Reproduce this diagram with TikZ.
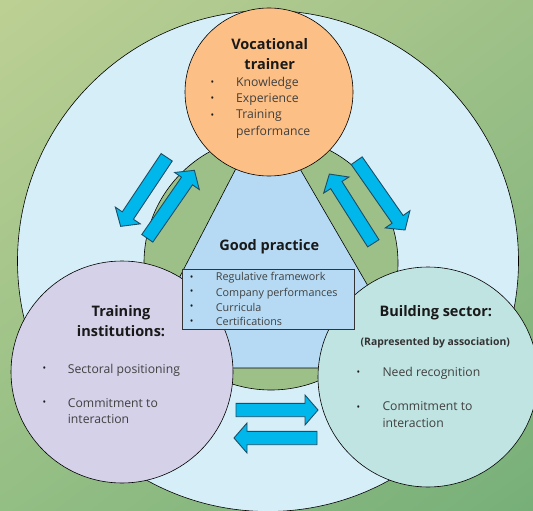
\documentclass[tikz,border=0pt]{standalone}
\usepackage{fontspec}
\usetikzlibrary{shadings}
\setmainfont{Open Sans}
\definecolor{bgA}{HTML}{BDD094}
\definecolor{bgB}{HTML}{9EC188}
\definecolor{bgC}{HTML}{93BE84}
\definecolor{bgD}{HTML}{77AF79}
\definecolor{bigc}{HTML}{D6EEF8}
\definecolor{ringc}{HTML}{9CC087}
\definecolor{goodc}{HTML}{B6DAF3}
\definecolor{trainc}{HTML}{FCBF86}
\definecolor{instc}{HTML}{D4D1E9}
\definecolor{buildc}{HTML}{C0E4E2}
\definecolor{arrc}{HTML}{00B7EB}
\definecolor{arrd}{HTML}{1D4E66}
\definecolor{itemc}{HTML}{404040}
\tikzset{
 disc/.style={circle, draw=black, line width=0.6pt, inner sep=0pt},
 barrow/.style={fill=arrc, draw=arrd, line width=0.9pt, line join=miter},
 titletext/.style={font=\fontsize{14.5}{17}\selectfont\bfseries, text=black!90, inner sep=0pt, anchor=base},
 subtext/.style={font=\fontsize{10.4}{12}\selectfont\bfseries, text=black!80, inner sep=0pt, anchor=base},
 itemtext/.style={font=\fontsize{12.2}{15}\selectfont, text=itemc, inner sep=0pt, anchor=base west},
 boxitem/.style={font=\fontsize{10.8}{13}\selectfont, text=itemc, inner sep=0pt, anchor=base west},
 bul/.style={font=\fontsize{9.5}{10}\selectfont, text=black!90, inner sep=0pt},
}
\newcommand\blockarrow[3]{%
 \begin{scope}[shift={(#1)}, rotate=#2]
 \draw[barrow] (0,-6.7) -- ({#3-13},-6.7) -- ({#3-13},-15) -- (#3,0) -- ({#3-13},15) -- ({#3-13},6.7) -- (0,6.7) -- cycle;
 \end{scope}}
\begin{document}
\begin{tikzpicture}[x=1pt,y=-1pt]
\useasboundingbox (0,0) rectangle (533,511);
\shade[upper left=bgA, upper right=bgB, lower left=bgC, lower right=bgD] (0,0) rectangle (533,511);
\node[disc, fill=bigc, minimum size=501pt] (big) at (268,261) {};
\node[disc, fill=ringc, minimum size=254pt] (ring) at (271,263) {};
\draw[fill=goodc, line width=0.6pt] (245.6,150) -- (289,150) -- (415.6,368) -- (132.4,368) -- cycle;
\node[disc, fill=trainc, minimum size=168pt] (trainer) at (269,92) {};
\node[disc, fill=instc, minimum size=222pt] (inst) at (122,372) {};
\node[disc, fill=buildc, minimum size=220pt] (build) at (428,377) {};
\node[draw=black!80, line width=0.6pt, fill=goodc, minimum width=172pt, minimum height=60pt, inner sep=0pt] (gpbox) at (268.3,299.3) {};
% arrows
\coordinate (a1) at (166.7,157.3);
\coordinate (a2) at (147.3,238.3);
\coordinate (a3) at (373.3,243.3);
\coordinate (a4) at (356.7,160.7);
\coordinate (a5) at (236,410);
\coordinate (a6) at (317,438);
\blockarrow{a1}{236.3}{83}
\blockarrow{a2}{55.3}{82.7}
\blockarrow{a3}{122.4}{82}
\blockarrow{a4}{-55.1}{84.5}
\blockarrow{a5}{0}{82}
\blockarrow{a6}{180}{83}
% trainer
\node[titletext] (t1) at (269.7,50) {Vocational};
\node[titletext] (t2) at (269.7,70) {trainer};
\node[bul] (tb1) at (212.3,82.7) {•};
\node[bul] (tb2) at (212.3,99.3) {•};
\node[bul] (tb3) at (212.3,116) {•};
\node[itemtext] (ti1) at (236,86) {Knowledge};
\node[itemtext] (ti2) at (236,102.7) {Experience};
\node[itemtext] (ti3) at (236,118.3) {Training};
\node[itemtext] (ti4) at (236,135) {performance};
% good practice
\node[titletext] (g1) at (269.2,250) {Good practice};
\node[bul] (gb1) at (191.7,278.3) {•};
\node[bul] (gb2) at (191.7,292.3) {•};
\node[bul] (gb3) at (191.7,307.3) {•};
\node[bul] (gb4) at (191.7,321.7) {•};
\node[boxitem] (gi1) at (215.7,280.7) {Regulative framework};
\node[boxitem] (gi2) at (215.7,296) {Company performances};
\node[boxitem] (gi3) at (215.7,311) {Curricula};
\node[boxitem] (gi4) at (215.7,325.7) {Certifications};
% institutions
\node[titletext] (i1) at (121,316.7) {Training};
\node[titletext] (i2) at (121,336.7) {institutions:};
\node[bul] (ib1) at (44.3,369.3) {•};
\node[bul] (ib2) at (44.3,403.3) {•};
\node[itemtext] (ii1) at (67.7,373.3) {Sectoral positioning};
\node[itemtext] (ii2) at (67.7,407.3) {Commitment to};
\node[itemtext] (ii3) at (67.7,423.3) {interaction};
% building
\node[titletext] (b1) at (435.8,316) {Building sector:};
\node[subtext] (b2) at (435.3,345) {(Rapresented by association)};
\node[bul] (bb1) at (358.3,373.3) {•};
\node[bul] (bb2) at (358.3,407.7) {•};
\node[itemtext] (bi1) at (382.3,376.7) {Need recognition};
\node[itemtext] (bi2) at (382.3,410.7) {Commitment to};
\node[itemtext] (bi3) at (382.3,427.7) {interaction};
\end{tikzpicture}
\end{document}
